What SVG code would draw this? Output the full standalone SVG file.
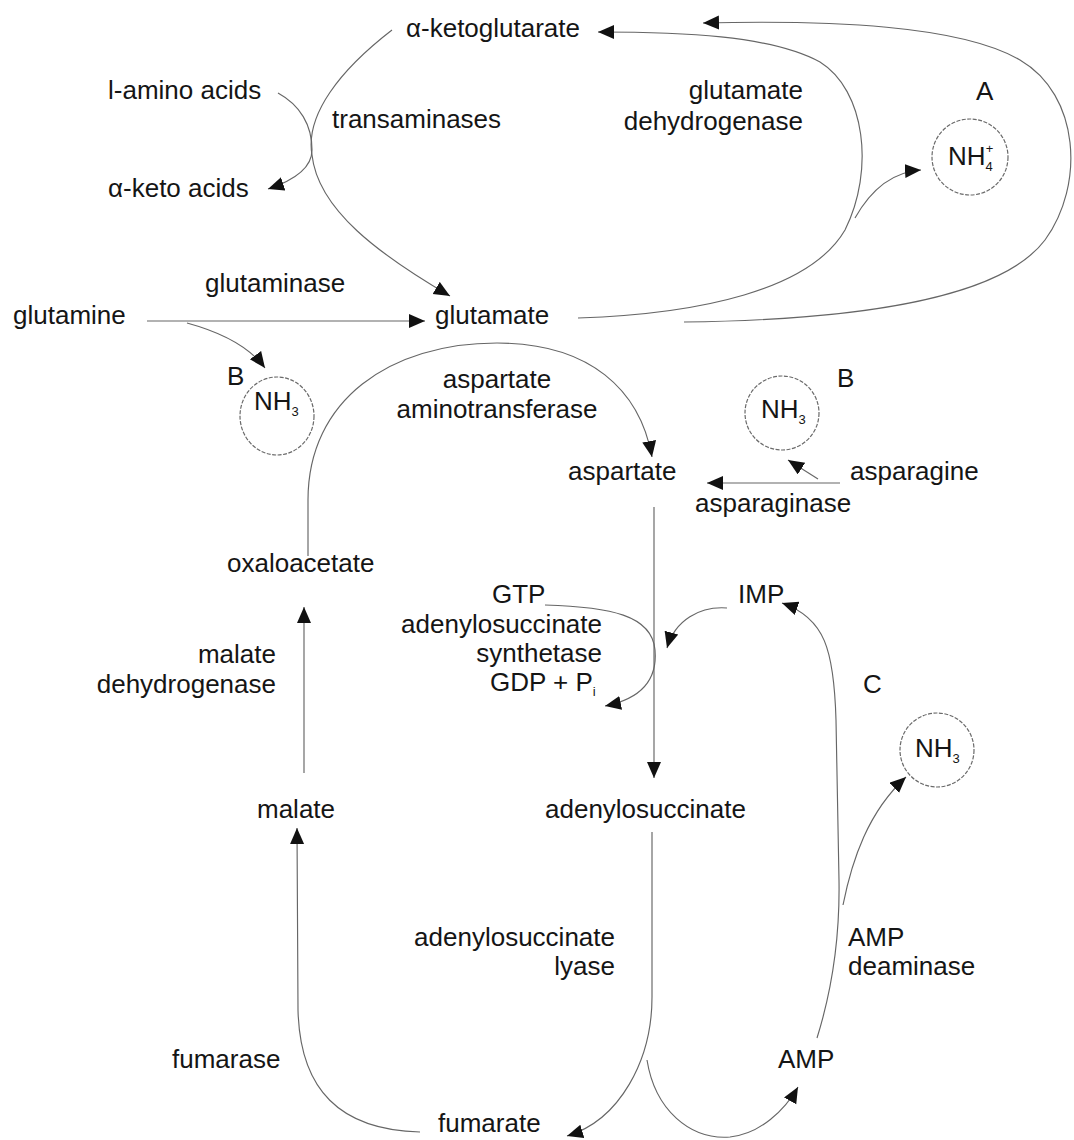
<svg xmlns="http://www.w3.org/2000/svg" width="1074" height="1140" viewBox="0 0 1074 1140">
<defs>
<marker id="ah" markerUnits="userSpaceOnUse" markerWidth="18" markerHeight="16" refX="16" refY="7" orient="auto">
<path d="M0,0 L16,7 L0,14 z" fill="#111"/>
</marker>
<style>
text{font-family:"Liberation Sans",Arial,sans-serif;font-size:26px;fill:#151515}
.c{fill:none;stroke:#666;stroke-width:1.15}
.a{marker-end:url(#ah)}
.ring{fill:none;stroke:#6a6a6a;stroke-width:1.2;stroke-dasharray:4 1.5}
.s{font-size:13px}
.m{text-anchor:middle}
.e{text-anchor:end}
</style>
</defs>
<rect width="1074" height="1140" fill="#fff"/>

<g id="connectors">
<path class="c a" d="M392 30 C340 70,305 115,312 155 C318 210,380 255,450 296"/>
<path class="c a" d="M278 93 C300 105,312 125,312 150 C312 168,295 180,268 189"/>
<path class="c a" d="M147 321 L425 321"/>
<path class="c a" d="M187 323 C220 332,248 345,265 368"/>
<path class="c a" d="M578 318 C700 314,810 290,845 230 C875 170,865 90,820 62 C770 35,680 32,598 32"/>
<path class="c a" d="M855 218 C868 195,888 172,921 170"/>
<path class="c a" d="M684 322 C850 320,1000 300,1045 240 C1085 185,1080 95,1020 60 C960 25,830 20,703 23"/>
<path class="c a" d="M308 556 L308 500 C308 400,390 343,497 343 C590 343,640 390,652 457"/>
<path class="c a" d="M840 483 L707 483"/>
<path class="c a" d="M818 479 L788 460"/>
<path class="c a" d="M654 507 L654 778"/>
<path class="c a" d="M545 605 C610 607,652 615,655 650 C658 685,635 700,605 706"/>
<path class="c a" d="M727 608 C700 606,675 620,667 648"/>
<path class="c a" d="M817 1038 C832 990,840 940,839 880 L836 720 C834 650,825 618,782 603"/>
<path class="c a" d="M843 905 C852 860,868 812,906 777"/>
<path class="c a" d="M652 832 L652 997 C652 1060,620 1120,567 1136"/>
<path class="c a" d="M647 1060 C655 1110,690 1140,730 1137 C760 1134,785 1110,798 1087"/>
<path class="c a" d="M420 1132 C340 1130,300 1090,298 1010 L297 828"/>
<path class="c a" d="M304 773 L304 607"/>
</g>

<g id="n-akg"><text x="406" y="37">α-ketoglutarate</text></g>
<g id="n-aminoacids"><text x="108" y="99">l-amino acids</text></g>
<g id="e-transaminases"><text x="332" y="128">transaminases</text></g>
<g id="n-ketoacids"><text x="108" y="197">α-keto acids</text></g>
<g id="e-gdh"><text class="e" x="803" y="99">glutamate</text><text class="e" x="803" y="130">dehydrogenase</text></g>
<g id="label-A"><text x="976" y="100">A</text></g>
<g id="n-nh4">
<circle class="ring" cx="970" cy="157" r="38"/>
<text x="948" y="165">NH<tspan class="s" dy="6">4</tspan><tspan class="s" dx="-7" dy="-18">+</tspan></text>
</g>
<g id="e-glutaminase"><text x="205" y="292">glutaminase</text></g>
<g id="n-glutamine"><text x="13" y="324">glutamine</text></g>
<g id="n-glutamate"><text x="435" y="324">glutamate</text></g>
<g id="n-nh3-left">
<text x="227" y="385">B</text>
<ellipse class="ring" cx="277" cy="416" rx="37" ry="39"/>
<text x="254" y="410">NH<tspan class="s" dy="6">3</tspan></text>
</g>
<g id="e-ast"><text class="m" x="497" y="388">aspartate</text><text class="m" x="497" y="418">aminotransferase</text></g>
<g id="n-nh3-right">
<text x="837" y="387">B</text>
<circle class="ring" cx="782" cy="413" r="37"/>
<text x="761" y="418">NH<tspan class="s" dy="6">3</tspan></text>
</g>
<g id="n-aspartate"><text x="568" y="480">aspartate</text></g>
<g id="n-asparagine"><text x="850" y="480">asparagine</text></g>
<g id="e-asparaginase"><text x="695" y="512">asparaginase</text></g>
<g id="n-oxaloacetate"><text x="227" y="572">oxaloacetate</text></g>
<g id="n-gtp"><text x="492" y="603">GTP</text></g>
<g id="e-adss"><text class="e" x="602" y="633">adenylosuccinate</text><text class="e" x="602" y="662">synthetase</text></g>
<g id="n-gdp"><text x="490" y="691">GDP + P<tspan class="s" dy="5">i</tspan></text></g>
<g id="n-imp"><text x="738" y="603">IMP</text></g>
<g id="label-C"><text x="863" y="693">C</text></g>
<g id="n-nh3-c">
<circle class="ring" cx="937" cy="750" r="37"/>
<text x="915" y="757">NH<tspan class="s" dy="6">3</tspan></text>
</g>
<g id="e-mdh"><text class="e" x="276" y="663">malate</text><text class="e" x="276" y="693">dehydrogenase</text></g>
<g id="n-malate"><text x="257" y="818">malate</text></g>
<g id="n-adenylosuccinate"><text x="545" y="818">adenylosuccinate</text></g>
<g id="e-adsl"><text class="e" x="615" y="946">adenylosuccinate</text><text class="e" x="615" y="975">lyase</text></g>
<g id="e-ampd"><text x="848" y="946">AMP</text><text x="848" y="975">deaminase</text></g>
<g id="e-fumarase"><text x="172" y="1068">fumarase</text></g>
<g id="n-amp"><text x="778" y="1068">AMP</text></g>
<g id="n-fumarate"><text x="438" y="1132">fumarate</text></g>
</svg>
